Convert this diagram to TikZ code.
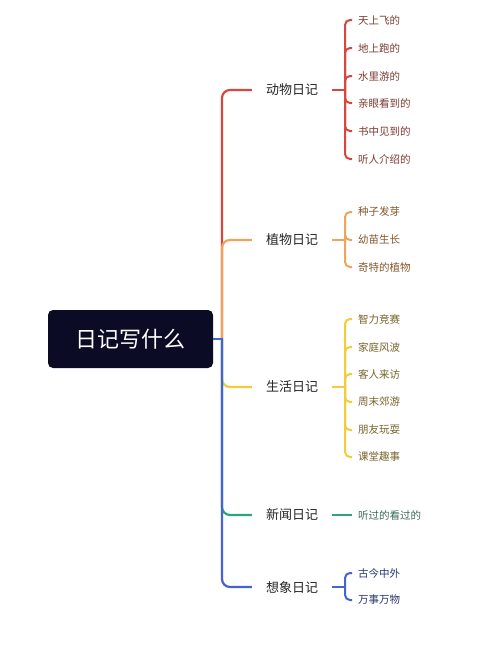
\documentclass[tikz,border=0pt]{standalone}
\usepackage{fontspec}
\setmainfont{Noto Sans CJK SC}
\definecolor{cRoot}{HTML}{0B0B26}
\definecolor{cRed}{HTML}{D8473D}
\definecolor{cOrange}{HTML}{F0A35A}
\definecolor{cYellow}{HTML}{F1CD3C}
\definecolor{cGreen}{HTML}{2BA67C}
\definecolor{cBlue}{HTML}{4563D3}
\definecolor{tRed}{HTML}{7A3B30}
\definecolor{tOrange}{HTML}{85582C}
\definecolor{tYellow}{HTML}{76642A}
\definecolor{tGreen}{HTML}{3A6B58}
\definecolor{tBlue}{HTML}{2A3570}
\begin{document}
\begin{tikzpicture}[x=1pt,y=-1pt,
    lbl/.style={inner xsep=14pt,inner ysep=2pt,text=black!85,font=\fontsize{13}{13}\selectfont},
    sub/.style={anchor=west,inner xsep=6pt,inner ysep=1pt,font=\fontsize{10.5}{10.5}\selectfont},
    ln/.style={line width=2.2pt,rounded corners=8pt},
    sb/.style={line width=2pt,rounded corners=5pt}]
        \useasboundingbox[fill=white] (0,0) rectangle (500,667);
        \def\jx{345}

        % root and trunk
        \node (root) at (130.5,339) [fill=cRoot,rounded corners=5pt,minimum width=165pt,minimum height=58pt,text=white,font=\fontsize{22}{22}\selectfont] {日记写什么};
        \coordinate (tr) at (222,339);

        % main topics
        \node (dw) at (292,90) [lbl] {动物日记};
        \node (zw) at (292,240) [lbl] {植物日记};
        \node (sh) at (292,387) [lbl] {生活日记};
        \node (xw) at (292,515) [lbl] {新闻日记};
        \node (xx) at (292,587) [lbl] {想象日记};

        % subtopics
        \node (dw1) at (352,20) [sub,text=tRed] {天上飞的};
        \node (dw2) at (352,48) [sub,text=tRed] {地上跑的};
        \node (dw3) at (352,76) [sub,text=tRed] {水里游的};
        \node (dw4) at (352,103) [sub,text=tRed] {亲眼看到的};
        \node (dw5) at (352,131) [sub,text=tRed] {书中见到的};
        \node (dw6) at (352,159) [sub,text=tRed] {听人介绍的};

        \node (zw1) at (352,212) [sub,text=tOrange] {种子发芽};
        \node (zw2) at (352,240) [sub,text=tOrange] {幼苗生长};
        \node (zw3) at (352,267) [sub,text=tOrange] {奇特的植物};

        \node (sh1) at (352,319) [sub,text=tYellow] {智力竞赛};
        \node (sh2) at (352,347) [sub,text=tYellow] {家庭风波};
        \node (sh3) at (352,374) [sub,text=tYellow] {客人来访};
        \node (sh4) at (352,402) [sub,text=tYellow] {周末郊游};
        \node (sh5) at (352,430) [sub,text=tYellow] {朋友玩耍};
        \node (sh6) at (352,457) [sub,text=tYellow] {课堂趣事};

        \node (xw1) at (352,515) [sub,text=tGreen] {听过的看过的};

        \node (xx1) at (352,573) [sub,text=tBlue] {古今中外};
        \node (xx2) at (352,600) [sub,text=tBlue] {万事万物};

        % trunk branches (blue last, over the others)
        \draw[ln,cRed] (tr) |- (dw.west);
        \draw[ln,cOrange] (tr) |- (zw.west);
        \draw[ln,cYellow] (tr) |- (sh.west);
        \draw[ln,cGreen] (tr) |- (xw.west);
        \draw[ln,cBlue] (tr) |- (xx.west);
        \draw[line width=2.2pt,cBlue] (root.east) -- ([xshift=1.1pt]tr);

        % brackets
        \coordinate (dwj) at (\jx,90);
        \coordinate (zwj) at (\jx,240);
        \coordinate (shj) at (\jx,387);
        \coordinate (xxj) at (\jx,587);

        \draw[sb,cRed] (dw.east) -- (dwj);
        \foreach \c in {dw1,dw2,dw3,dw4,dw5,dw6} \draw[sb,cRed] (dwj) |- (\c.west);
        \draw[sb,cOrange] (zw.east) -- (zwj);
        \foreach \c in {zw1,zw2,zw3} \draw[sb,cOrange] (zwj) |- (\c.west);
        \draw[sb,cYellow] (sh.east) -- (shj);
        \foreach \c in {sh1,sh2,sh3,sh4,sh5,sh6} \draw[sb,cYellow] (shj) |- (\c.west);
        \draw[sb,cGreen] (xw.east) -- (xw1.west);
        \draw[sb,cBlue] (xx.east) -- (xxj);
        \foreach \c in {xx1,xx2} \draw[sb,cBlue] (xxj) |- (\c.west);
      \end{tikzpicture}
\end{document}
